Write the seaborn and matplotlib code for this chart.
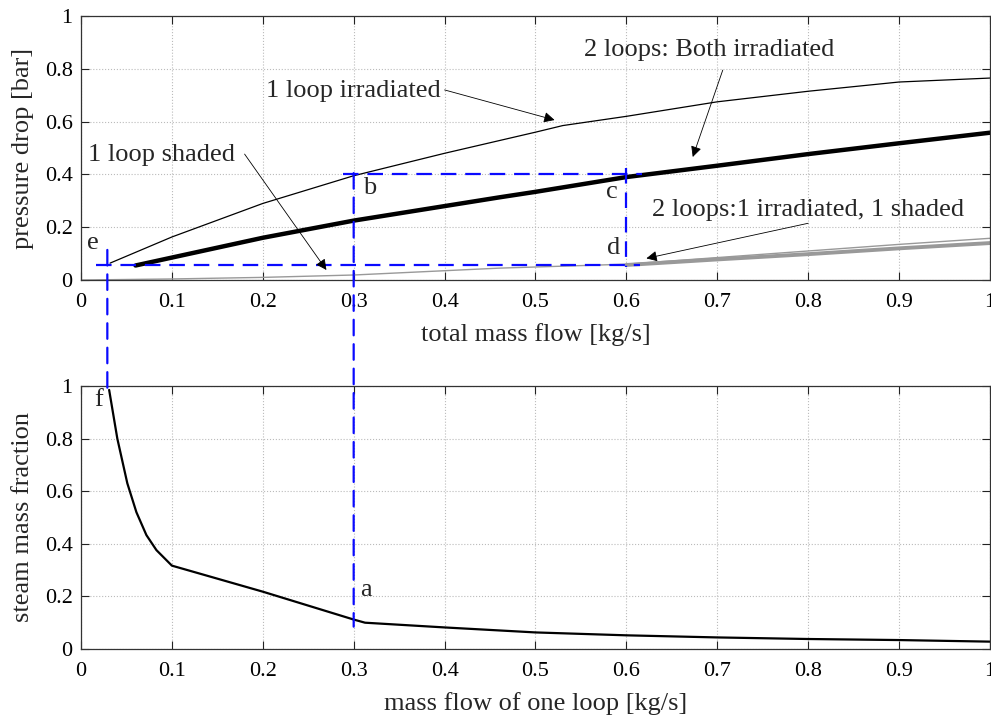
import matplotlib
matplotlib.use("Agg")
import matplotlib.pyplot as plt
from matplotlib.patches import ConnectionPatch
import numpy as np
import pandas as pd
import seaborn as sns

# top panel: pressure drop vs total mass flow
x_irr = [0.032, 0.1, 0.2, 0.3, 0.4, 0.46, 0.5, 0.53, 0.6, 0.7, 0.75, 0.8, 0.9, 1.0]
p_irr = [0.064, 0.163, 0.29, 0.395, 0.48, 0.528, 0.56, 0.585, 0.62, 0.675, 0.695, 0.715, 0.75, 0.765]

x_both = [0.06, 0.1, 0.2, 0.3, 0.46, 0.5, 0.6, 0.7, 0.8, 0.9, 1.0]
p_both = [0.055, 0.085, 0.16, 0.225, 0.313, 0.334, 0.39, 0.433, 0.477, 0.518, 0.558]

x_shaded = [0.0, 0.1, 0.2, 0.3, 0.46, 0.6, 0.7, 0.8, 0.9, 1.0]
p_shaded = [0.0, 0.004, 0.01, 0.019, 0.045, 0.06, 0.085, 0.11, 0.135, 0.158]

x_mixed = [0.6, 0.7, 0.8, 0.9, 1.0]
p_mixed = [0.057, 0.078, 0.098, 0.12, 0.14]

# bottom panel: steam mass fraction vs mass flow of one loop
x_one = [0.031, 0.040, 0.051, 0.061, 0.072, 0.083, 0.1, 0.2, 0.3, 0.3125,
         0.4, 0.5, 0.6, 0.7, 0.8, 0.9, 1.0]
steam = [0.985, 0.80, 0.63, 0.52, 0.433, 0.376, 0.317, 0.218, 0.112, 0.10,
         0.082, 0.063, 0.052, 0.044, 0.038, 0.034, 0.028]

# construction lines (blue dashed)
y_bc = 0.4
x_bc = [0.288, 0.617]
y_ed = 0.057
x_ed = [0.017, 0.615]
x_c = 0.6
y_c = [0.424, 0.05]
x_b = 0.3
y_b_top, y_b_bot = 0.405, 0.085
x_e = 0.029
y_e_top, y_e_bot = 0.114, 0.96

ticks = [0, 0.1, 0.2, 0.3, 0.4, 0.5, 0.6, 0.7, 0.8, 0.9, 1]
tick_lbl = ["0", "0.1", "0.2", "0.3", "0.4", "0.5", "0.6", "0.7", "0.8", "0.9", "1"]
yticks = [0, 0.2, 0.4, 0.6, 0.8, 1]
ytick_lbl = ["0", "0.2", "0.4", "0.6", "0.8", "1"]

sns.set_style("ticks")
plt.rcParams['font.family'] = ['Liberation Serif', 'DejaVu Serif']

fig = plt.figure(figsize=(9.91, 7.18), dpi=100)
ax1 = fig.add_axes([0.0817, 0.61, 0.9173, 0.3677])
ax2 = fig.add_axes([0.0817, 0.0961, 0.9173, 0.3663])

blue = "#0a0aff"
dash = (0, (7, 4))

sns.lineplot(x=x_shaded, y=p_shaded, color="#999999", lw=1.0, sort=False, estimator=None, ax=ax1)
sns.lineplot(x=x_mixed, y=p_mixed, color="#999999", lw=2.8, sort=False, estimator=None, ax=ax1)
sns.lineplot(x=x_irr, y=p_irr, color="black", lw=0.9, sort=False, estimator=None, ax=ax1)
sns.lineplot(x=x_both, y=p_both, color="black", lw=3.2, sort=False, estimator=None, ax=ax1)

ax1.plot(x_bc, [y_bc, y_bc], color=blue, lw=1.6, ls=dash)
ax1.plot(x_ed, [y_ed, y_ed], color=blue, lw=1.6, ls=dash)
ax1.plot([x_c, x_c], y_c, color=blue, lw=1.6, ls=dash)

sns.lineplot(x=x_one, y=steam, color="black", lw=1.6, sort=False, estimator=None, ax=ax2)

for xv, yt, yb in [(x_b, y_b_top, y_b_bot), (x_e, y_e_top, y_e_bot)]:
    con = ConnectionPatch(xyA=(xv, yt), coordsA=ax1.transData,
                          xyB=(xv, yb), coordsB=ax2.transData,
                          color=blue, lw=1.6, ls=dash, zorder=5)
    fig.add_artist(con)

for ax in (ax1, ax2):
    ax.set_xlim(0, 1)
    ax.set_ylim(0, 1)
    ax.set_xticks(ticks)
    ax.set_xticklabels(tick_lbl)
    ax.set_yticks(yticks)
    ax.set_yticklabels(ytick_lbl)
    ax.grid(True, color="#bbbbbb", ls=":", lw=0.8)
    ax.tick_params(direction="in", top=True, right=True, length=5.5, width=0.8,
                   labelsize=16, colors="#222222", labelcolor="black", pad=6)
    ax.tick_params(axis="x", pad=9)
    for s in ax.spines.values():
        s.set_color("#333333")
        s.set_linewidth(0.9)

ax1.set_xlabel("total mass flow [kg/s]", fontsize=19, labelpad=8)
ax1.set_ylabel("pressure drop [bar]", fontsize=19, labelpad=8)
ax2.set_xlabel("mass flow of one loop [kg/s]", fontsize=19, labelpad=8)
ax2.set_ylabel("steam mass fraction", fontsize=19, labelpad=8)

# point letters
lt = dict(fontsize=19, ha="center", va="center")
ax1.text(0.013, 0.14, "e", **lt)
ax1.text(0.318, 0.35, "b", **lt)
ax1.text(0.584, 0.334, "c", **lt)
ax1.text(0.586, 0.12, "d", **lt)
ax2.text(0.019, 0.947, "f", **lt)
ax2.text(0.313, 0.224, "a", **lt)

ap = dict(arrowstyle="-|>", color="black", lw=0.6, mutation_scale=16, shrinkA=0, shrinkB=0)
tx = dict(fontsize=19, ha="center", va="center")
ax1.text(0.30, 0.716, "1 loop irradiated", **tx)
ax1.annotate("", xy=(0.521, 0.606), xytext=(0.40, 0.72), arrowprops=ap)
ax1.text(0.691, 0.871, "2 loops: Both irradiated", **tx)
ax1.annotate("", xy=(0.673, 0.466), xytext=(0.706, 0.795), arrowprops=ap)
ax1.text(0.089, 0.473, "1 loop shaded", **tx)
ax1.annotate("", xy=(0.27, 0.038), xytext=(0.18, 0.477), arrowprops=ap)
ax1.text(0.80, 0.265, "2 loops:1 irradiated, 1 shaded", **tx)
ax1.annotate("", xy=(0.622, 0.082), xytext=(0.80, 0.215), arrowprops=ap)

fig.savefig("out.png", dpi=100)
